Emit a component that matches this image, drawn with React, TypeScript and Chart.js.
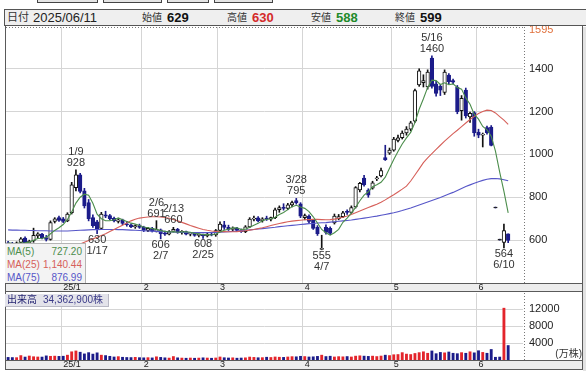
import React, { useEffect, useRef } from 'react';
import { Chart, registerables } from 'chart.js';

Chart.register(...registerables);

const FONT = '"Liberation Sans", "Noto Sans CJK JP", Arial, sans-serif';
Chart.defaults.font.family = FONT;

// ---------- data ----------
const lastDate = '2025/06/11';
const dates = [
  '12/12','12/13','12/16','12/17','12/18','12/19','12/20','12/23','12/24','12/25','12/26','12/27','12/30',
  '1/6','1/7','1/8','1/9','1/10','1/14','1/15','1/16','1/17','1/20','1/21','1/22','1/23','1/24','1/27','1/28','1/29','1/30','1/31',
  '2/3','2/4','2/5','2/6','2/7','2/10','2/12','2/13','2/14','2/17','2/18','2/19','2/20','2/21','2/25','2/26','2/27','2/28',
  '3/3','3/4','3/5','3/6','3/7','3/10','3/11','3/12','3/13','3/14','3/17','3/18','3/19','3/21','3/24','3/25','3/26','3/27','3/28','3/31',
  '4/1','4/2','4/3','4/4','4/7','4/8','4/9','4/10','4/11','4/14','4/15','4/16','4/17','4/18','4/21','4/22','4/23','4/24','4/25','4/28','4/30',
  '5/1','5/2','5/7','5/8','5/9','5/12','5/13','5/14','5/15','5/16','5/19','5/20','5/21','5/22','5/23','5/26','5/27','5/28','5/29','5/30',
  '6/2','6/3','6/4','6/5','6/6','6/9','6/10','6/11',
];
const opens = [
  588, 582, 578, 590, 610, 587, 596, 620, 628, 612, 603, 688, 705,
  700, 690, 728, 845, 905, 830, 775, 705, 685, 655, 718, 715, 702, 688, 695, 676, 672, 662, 668,
  660, 645, 655, 642, 648, 630, 628, 642, 650, 636, 640, 628, 632, 622, 626, 620, 628, 624,
  645, 672, 660, 650, 656, 645, 640, 662, 698, 704, 690, 700, 698, 705, 742, 752, 748, 765, 785, 770,
  705, 712, 692, 660, 557, 660, 655, 680, 700, 710, 735, 730, 755, 835, 890, 834, 843, 886, 900, 985, 1006,
  1020, 1065, 1078, 1100, 1118, 1155, 1325, 1335, 1315, 1450, 1330, 1318, 1290, 1370, 1345, 1315, 1205, 1300, 1175, 1195,
  1105, 1090, 1125, 1128, 750, 600, 590, 629,
];
const highs = [
  595, 590, 592, 612, 616, 600, 656, 635, 632, 622, 690, 705, 712,
  706, 728, 870, 928, 912, 842, 790, 718, 692, 730, 735, 720, 708, 700, 698, 688, 676, 672, 675,
  665, 660, 660, 691, 652, 642, 645, 660, 655, 645, 642, 636, 635, 630, 628, 632, 635, 650,
  685, 688, 670, 662, 660, 652, 668, 705, 712, 710, 705, 712, 708, 750, 760, 770, 772, 782, 795, 775,
  722, 718, 695, 668, 623, 672, 662, 722, 720, 735, 742, 760, 850, 870, 903, 840, 875, 898, 936, 1043, 1030,
  1080, 1090, 1110, 1130, 1155, 1305, 1400, 1372, 1395, 1460, 1342, 1325, 1395, 1378, 1352, 1322, 1275, 1310, 1198, 1200,
  1118, 1100, 1132, 1135, 750, 600, 675, 630,
];
const lows = [
  578, 572, 575, 585, 583, 578, 590, 608, 606, 596, 600, 680, 688,
  682, 686, 722, 830, 820, 750, 690, 660, 630, 650, 705, 695, 685, 680, 672, 665, 658, 655, 655,
  640, 640, 638, 638, 606, 622, 625, 638, 632, 628, 625, 620, 618, 615, 608, 615, 620, 618,
  640, 650, 645, 640, 640, 636, 635, 658, 690, 685, 684, 692, 690, 700, 730, 740, 742, 755, 768, 705,
  695, 680, 650, 622, 555, 628, 625, 675, 695, 705, 720, 725, 750, 825, 852, 800, 838, 878, 895, 972, 1000,
  1015, 1058, 1072, 1090, 1110, 1150, 1318, 1315, 1305, 1310, 1272, 1275, 1280, 1330, 1330, 1190, 1160, 1170, 1150, 1085,
  1078, 1035, 1095, 1040, 750, 600, 564, 588,
];
const closes = [
  582, 578, 588, 606, 587, 595, 622, 630, 612, 603, 682, 700, 692,
  688, 722, 858, 905, 828, 760, 700, 668, 650, 722, 712, 700, 690, 695, 678, 672, 662, 668, 660,
  645, 655, 642, 650, 630, 628, 640, 650, 636, 640, 628, 632, 622, 626, 620, 628, 624, 645,
  675, 660, 650, 656, 645, 640, 662, 698, 702, 690, 700, 698, 705, 742, 752, 748, 765, 775, 775, 712,
  715, 688, 655, 630, 562, 636, 632, 712, 710, 728, 730, 752, 845, 865, 858, 810, 868, 890, 925, 976, 1020,
  1072, 1078, 1100, 1118, 1148, 1298, 1390, 1345, 1385, 1318, 1285, 1300, 1385, 1340, 1338, 1200, 1262, 1180, 1192, 1100,
  1090, 1092, 1102, 1042, 750, 600, 645, 599,
];
// volume, in 万株
const volumes = [
  620, 580, 560, 1050, 700, 950, 780, 720, 700, 980, 880, 920, 860,
  900, 1150, 1950, 2150, 1850, 1450, 1750, 1400, 1700, 1150, 1050, 880, 720, 800, 650, 600, 580, 640, 560,
  520, 560, 500, 760, 620, 520, 460, 820, 520, 460, 420, 470, 420, 460, 520, 470, 420, 480,
  720, 540, 480, 520, 430, 470, 520, 700, 620, 540, 560, 660, 600, 720, 660, 620, 720, 800, 760, 880,
  820, 720, 760, 860, 1150, 820, 900, 720, 800, 760, 820, 720, 920, 1000, 920, 860, 920, 820, 940, 1150, 1050,
  1250, 1300, 1750, 1400, 1300, 1550, 1750, 1950, 1600, 2150, 1500, 1800, 1700, 1900, 1600, 1500, 1750, 1600, 1950, 1700,
  2200, 1800, 1600, 2500, 650, 700, 12300, 3436.29,
];
const ma5 = [
  588, 585, 584, 587, 588.2, 590.8, 599.6, 608, 609.2, 612.4, 629.8, 645.4, 657.8,
  673, 696.8, 732, 773, 800.2, 814.6, 810.2, 772.2, 721.2, 700, 690.4, 690.4, 694.8, 703.8, 695, 687, 679.4, 675, 668,
  661.4, 658, 654, 650.4, 644.4, 641, 638, 639.6, 636.8, 638.8, 638.8, 637.2, 631.6, 629.6, 625.6, 625.6, 624, 628.6,
  638.4, 646.4, 650.8, 657.2, 657.2, 650.2, 650.6, 660.2, 669.4, 678.4, 690.4, 697.6, 699, 707, 719.4, 729, 742.4, 756.4, 763, 755,
  748.4, 733, 709, 680, 650, 634.2, 623, 634.4, 650.4, 683.6, 702.4, 726.4, 753, 784, 810, 826, 849.2, 858.2, 870.2, 893.8, 935.8,
  976.6, 1014.2, 1049.2, 1077.6, 1103.2, 1148.4, 1210.8, 1259.8, 1313.2, 1347.2, 1344.6, 1326.6, 1334.6, 1325.6, 1329.6, 1312.6, 1305, 1264, 1234.4, 1186.8,
  1164.8, 1130.8, 1115.2, 1085.2, 1015.2, 917.2, 827.8, 727.2,
];
const ma25 = [
  540, 541, 542, 543, 544, 545, 546, 547, 548, 549, 550, 551, 553,
  556, 560, 566, 574, 582, 590, 598, 606, 614, 622, 630, 640, 650, 660, 670, 680, 690, 698, 703,
  706, 708, 709, 709, 708, 706, 702, 696, 690, 683, 676, 668, 662, 656, 650, 646, 643, 641,
  640, 640, 639, 639, 640, 642, 644, 647, 650, 654, 658, 663, 668, 673, 678, 682, 686, 689, 691, 693,
  695, 696, 697, 697, 696, 695, 696, 698, 702, 707, 713, 720, 728, 736, 744, 752, 760, 768, 777, 788, 800,
  812, 825, 838, 852, 876, 904, 933, 962, 984, 1004, 1024, 1043, 1062, 1080, 1097, 1113, 1130, 1147, 1163, 1178,
  1191, 1201, 1207, 1205, 1194, 1177, 1160, 1140.44,
];
const ma75 = [
  648, 647, 647, 646, 646, 645, 645, 644, 644, 644, 643, 643, 643,
  643, 643, 644, 645, 646, 647, 648, 649, 649, 650, 650, 650, 650, 649, 649, 648, 647, 646, 645,
  644, 643, 642, 641, 640, 639, 638, 638, 637, 636, 636, 635, 635, 635, 635, 635, 636, 636,
  637, 638, 639, 641, 642, 644, 646, 648, 650, 652, 654, 656, 658, 660, 663, 665, 667, 669, 671, 673,
  675, 677, 678, 680, 681, 682, 684, 686, 688, 690, 692, 694, 697, 700, 703, 706, 709, 712, 716, 720, 724,
  728, 733, 738, 744, 750, 757, 764, 771, 778, 785, 792, 799, 807, 815, 823, 832, 841, 850, 858, 866,
  873, 879, 884, 887, 888, 886, 882, 876.99,
];
const maNames = ['MA(5)', 'MA(25)', 'MA(75)'];
const monthTickLabels = ['25/1', '2', '3', '4', '5', '6'];
const priceTicks = [600, 800, 1000, 1200, 1400];
const priceMin = 400;
const priceMax = 1595;
const volumeTicks = [4000, 8000, 12000];
const volumeMax = 15900;
const trailingSlots = 3;
const noteDates = ['1/9', '1/17', '2/6', '2/7', '2/13', '2/25', '3/28', '4/7', '5/16', '6/10'];
const noteSides = ['high', 'low', 'high', 'low', 'high', 'low', 'high', 'low', 'high', 'low'];

// ---------- styles ----------
const GRID = '#d5d5d5';
const CLEAR = 'rgba(0,0,0,0)';
const UP_EDGE = '#111111';
const DOWN = '#1c1c8a';
const VOL_UP = '#e3242b';
const MA_COLORS = ['#4b8d4b', '#d6605a', '#5656c8'];

const monthStarts: number[] = [];
dates.forEach((d, i) => {
  if (i > 0 && d.split('/')[0] !== dates[i - 1].split('/')[0]) monthStarts.push(i);
});

function isUp(i: number) {
  if (closes[i] !== opens[i]) return closes[i] > opens[i];
  return i > 0 ? closes[i] >= closes[i - 1] : true;
}

function fmt2(v: number) {
  return v.toLocaleString('en-US', { minimumFractionDigits: 2, maximumFractionDigits: 2 });
}

function xScale(h: number) {
  return {
    type: 'category',
    offset: true,
    grid: {
      offset: true,
      drawTicks: false,
      lineWidth: 1,
      color: (c: any) => (monthStarts.includes(c.index) ? GRID : CLEAR),
    },
    border: { display: false },
    ticks: {
      autoSkip: false,
      maxRotation: 0,
      minRotation: 0,
      align: 'start',
      padding: 0,
      color: '#222',
      font: { size: 9, lineHeight: 1 },
      callback: (_v: any, i: number) => {
        const k = monthStarts.indexOf(i);
        return k >= 0 ? monthTickLabels[k] : '';
      },
    },
    afterFit: (s: any) => {
      s.height = h;
    },
  };
}

function decor(isPrice: boolean) {
  return {
    id: isPrice ? 'decorPrice' : 'decorVolume',
    beforeDraw(chart: any) {
      const { ctx, chartArea: a, width } = chart;
      const xs = chart.scales.x;
      ctx.save();
      ctx.fillStyle = '#ededed';
      ctx.fillRect(0, xs.top, width, xs.bottom - xs.top);
      ctx.strokeStyle = '#5a5a5a';
      ctx.lineWidth = 1;
      ctx.beginPath();
      const t = Math.round(xs.top) + 0.5;
      const b = Math.round(xs.bottom) - 0.5;
      ctx.moveTo(0, t);
      ctx.lineTo(width, t);
      ctx.moveTo(0, b);
      ctx.lineTo(width, b);
      ctx.moveTo(0.5, a.top - 1);
      ctx.lineTo(0.5, xs.bottom);
      ctx.moveTo(width - 0.5, a.top - 1);
      ctx.lineTo(width - 0.5, xs.bottom);
      ctx.stroke();
      ctx.restore();
    },
    afterDatasetsDraw(chart: any) {
      const { ctx, chartArea: a } = chart;
      ctx.save();
      ctx.strokeStyle = '#777';
      ctx.lineWidth = 1;
      ctx.setLineDash([1, 2]);
      ctx.beginPath();
      const rx = Math.round(a.right) + 1.5;
      ctx.moveTo(rx, a.top);
      ctx.lineTo(rx, a.bottom);
      if (isPrice) {
        const ty = Math.round(a.top) + 0.5;
        ctx.moveTo(a.left, ty);
        ctx.lineTo(rx, ty);
      }
      ctx.stroke();
      ctx.setLineDash([]);
      if (isPrice) {
        const xs = chart.scales.x;
        const ys = chart.scales.y;
        // axis maximum label
        ctx.fillStyle = '#e0703c';
        ctx.font = '11px ' + FONT;
        ctx.textAlign = 'left';
        ctx.textBaseline = 'middle';
        ctx.fillText(String(priceMax), a.right + 6, ys.getPixelForValue(priceMax) + 3);
        // high / low notes
        ctx.fillStyle = '#333';
        ctx.textAlign = 'center';
        noteDates.forEach((d, k) => {
          const i = dates.indexOf(d);
          const x = xs.getPixelForValue(i);
          if (noteSides[k] === 'high') {
            const y = ys.getPixelForValue(highs[i]);
            ctx.fillText(String(highs[i]), x, y - 7);
            ctx.fillText(d, x, y - 18);
          } else {
            const y = ys.getPixelForValue(lows[i]);
            ctx.fillText(String(lows[i]), x, y + 6);
            ctx.fillText(d, x, y + 17);
          }
        });
      }
      ctx.restore();
    },
  };
}

export default function App() {
  const priceRef = useRef<HTMLCanvasElement>(null);
  const volRef = useRef<HTMLCanvasElement>(null);

  useEffect(() => {
    const labels = [...dates, ...Array(trailingSlots).fill('')];
    const wick = dates.map((_, i) => [lows[i], highs[i]]);
    const body = dates.map((_, i) => [opens[i], closes[i]]);
    const doji = (i: number) => opens[i] === closes[i];
    const bodyFill = dates.map((_, i) => (doji(i) ? '#222' : isUp(i) ? '#ffffff' : DOWN));
    const bodyEdge = dates.map((_, i) => (doji(i) ? '#222' : isUp(i) ? UP_EDGE : DOWN));
    const wickColor = dates.map((_, i) => (isUp(i) ? UP_EDGE : DOWN));
    const volColor = dates.map((_, i) => (isUp(i) ? VOL_UP : DOWN));
    const maData = [ma5, ma25, ma75];

    const c1 = new Chart(priceRef.current as HTMLCanvasElement, {
      type: 'bar',
      data: {
        labels,
        datasets: [
          ...maData.map((d, k) => ({
            type: 'line',
            label: maNames[k],
            data: d,
            borderColor: MA_COLORS[k],
            borderWidth: 1.1,
            pointRadius: 0,
            tension: 0,
            order: 1,
          })),
          {
            type: 'bar',
            label: 'body',
            data: body,
            backgroundColor: bodyFill,
            borderColor: bodyEdge,
            borderWidth: 1,
            borderSkipped: false,
            barThickness: 3.6,
            minBarLength: 1,
            grouped: false,
            order: 2,
          },
          {
            type: 'bar',
            label: 'wick',
            data: wick,
            backgroundColor: wickColor,
            borderWidth: 0,
            barThickness: 1,
            minBarLength: 1,
            grouped: false,
            order: 3,
          },
        ] as any,
      },
      options: {
        animation: false,
        responsive: false,
        maintainAspectRatio: false,
        devicePixelRatio: 1,
        layout: { padding: { left: 1, right: 0, top: 12, bottom: 1 } },
        plugins: { legend: { display: false }, tooltip: { enabled: false } },
        scales: {
          x: xScale(9),
          y: {
            position: 'right',
            min: priceMin,
            max: priceMax,
            afterBuildTicks: (s: any) => {
              s.ticks = priceTicks.map((v) => ({ value: v }));
            },
            grid: { drawTicks: true, tickLength: 6, tickColor: CLEAR, lineWidth: 1, color: GRID },
            border: { display: false },
            ticks: { padding: 0, font: { size: 11 }, color: '#222', callback: (v: any) => String(v) },
            afterFit: (s: any) => {
              s.width = 60;
            },
          },
        } as any,
      },
      plugins: [decor(true)],
    } as any);

    const c2 = new Chart(volRef.current as HTMLCanvasElement, {
      type: 'bar',
      data: {
        labels,
        datasets: [
          {
            label: '出来高',
            data: volumes,
            backgroundColor: volColor,
            borderWidth: 0,
            barThickness: 2.2,
          },
        ],
      },
      options: {
        animation: false,
        responsive: false,
        maintainAspectRatio: false,
        devicePixelRatio: 1,
        layout: { padding: { left: 1, right: 0, top: 8, bottom: 1 } },
        plugins: { legend: { display: false }, tooltip: { enabled: false } },
        scales: {
          x: xScale(10),
          y: {
            position: 'right',
            min: 0,
            max: volumeMax,
            afterBuildTicks: (s: any) => {
              s.ticks = volumeTicks.map((v) => ({ value: v }));
            },
            grid: { drawTicks: true, tickLength: 6, tickColor: CLEAR, lineWidth: 1, color: GRID },
            border: { display: false },
            ticks: { padding: 0, font: { size: 11 }, color: '#222', callback: (v: any) => String(v) },
            afterFit: (s: any) => {
              s.width = 60;
            },
          },
        } as any,
      },
      plugins: [decor(false)],
    } as any);

    return () => {
      c1.destroy();
      c2.destroy();
    };
  }, []);

  const last = dates.length - 1;
  const volText = Math.round(volumes[last] * 10000).toLocaleString('en-US') + '株';
  const maLast = [ma5[last], ma25[last], ma75[last]];

  const abs = (s: React.CSSProperties): React.CSSProperties => ({ position: 'absolute', ...s });
  const tabs: [number, number][] = [
    [37, 98],
    [103, 162],
    [167, 209],
    [214, 273],
  ];

  return (
    <div
      style={abs({
        left: 0,
        top: 0,
        width: 586,
        height: 371,
        overflow: 'hidden',
        background: '#fff',
        fontFamily: FONT,
        color: '#222',
      })}
    >
      {tabs.map(([l, r]) => (
        <div
          key={l}
          style={abs({
            left: l,
            top: 0,
            width: r - l,
            height: 3,
            boxSizing: 'border-box',
            border: '1px solid #444',
            borderTop: 'none',
            background: '#e4e4e4',
          })}
        />
      ))}
      <div style={abs({ left: 583, top: 27, width: 3, height: 344, background: '#e2e2e2' })} />
      <canvas
        ref={priceRef}
        width={578}
        height={278}
        style={abs({ left: 5, top: 15, width: 578, height: 278, zIndex: 1 })}
      />
      <canvas
        ref={volRef}
        width={578}
        height={86}
        style={abs({ left: 5, top: 285, width: 578, height: 86, zIndex: 2 })}
      />

      {/* header */}
      <div
        style={abs({
          left: 4,
          top: 9,
          width: 582,
          height: 17,
          boxSizing: 'border-box',
          border: '1px solid #555',
          borderRight: 'none',
          background: '#efefef',
          zIndex: 5,
          fontSize: 13,
          lineHeight: '15px',
          whiteSpace: 'nowrap',
        })}
      >
        <span style={abs({ left: 2, top: 0, fontSize: 11, color: '#333' })}>日付</span>
        <span style={abs({ left: 28, top: 0 })}>{lastDate}</span>
        <span style={abs({ left: 137, top: 0, fontSize: 10, color: '#333' })}>始値</span>
        <span style={abs({ left: 162, top: 0, fontWeight: 'bold', color: '#111' })}>{opens[last]}</span>
        <span style={abs({ left: 222, top: 0, fontSize: 10, color: '#333' })}>高値</span>
        <span style={abs({ left: 247, top: 0, fontWeight: 'bold', color: '#d42a2a' })}>{highs[last]}</span>
        <span style={abs({ left: 306, top: 0, fontSize: 10, color: '#333' })}>安値</span>
        <span style={abs({ left: 331, top: 0, fontWeight: 'bold', color: '#1e8a2a' })}>{lows[last]}</span>
        <span style={abs({ left: 390, top: 0, fontSize: 10, color: '#333' })}>終値</span>
        <span style={abs({ left: 415, top: 0, fontWeight: 'bold', color: '#111' })}>{closes[last]}</span>
      </div>

      {/* moving-average legend */}
      <div
        style={abs({
          left: 5,
          top: 243,
          width: 81,
          height: 40,
          boxSizing: 'border-box',
          border: '1px solid #b4b4b4',
          borderLeft: 'none',
          borderBottom: 'none',
          background: '#f3f3f3',
          zIndex: 5,
          fontSize: 10,
        })}
      >
        {maNames.map((n, k) => (
          <div
            key={n}
            style={abs({ left: 2, right: 3, top: 1 + 13 * k, height: 13, lineHeight: '13px', color: MA_COLORS[k] })}
          >
            <span>{n}</span>
            <span style={abs({ right: 0, top: 0 })}>{fmt2(maLast[k])}</span>
          </div>
        ))}
      </div>

      {/* volume title */}
      <div
        style={abs({
          left: 5,
          top: 294,
          width: 103,
          height: 12,
          background: '#e3e3ea',
          borderRight: '1px solid #b8b8c4',
          borderBottom: '1px solid #b8b8c4',
          zIndex: 5,
          fontSize: 10,
          lineHeight: '12px',
          whiteSpace: 'nowrap',
        })}
      >
        <span style={abs({ left: 2, top: 0, color: '#1e1e6e' })}>出来高</span>
        <span style={abs({ left: 38, top: 0, color: '#3a3a88' })}>{volText}</span>
      </div>
      <div style={abs({ right: 4, top: 348, fontSize: 10, lineHeight: '12px', color: '#333', zIndex: 5 })}>
        (万株)
      </div>
    </div>
  );
}
